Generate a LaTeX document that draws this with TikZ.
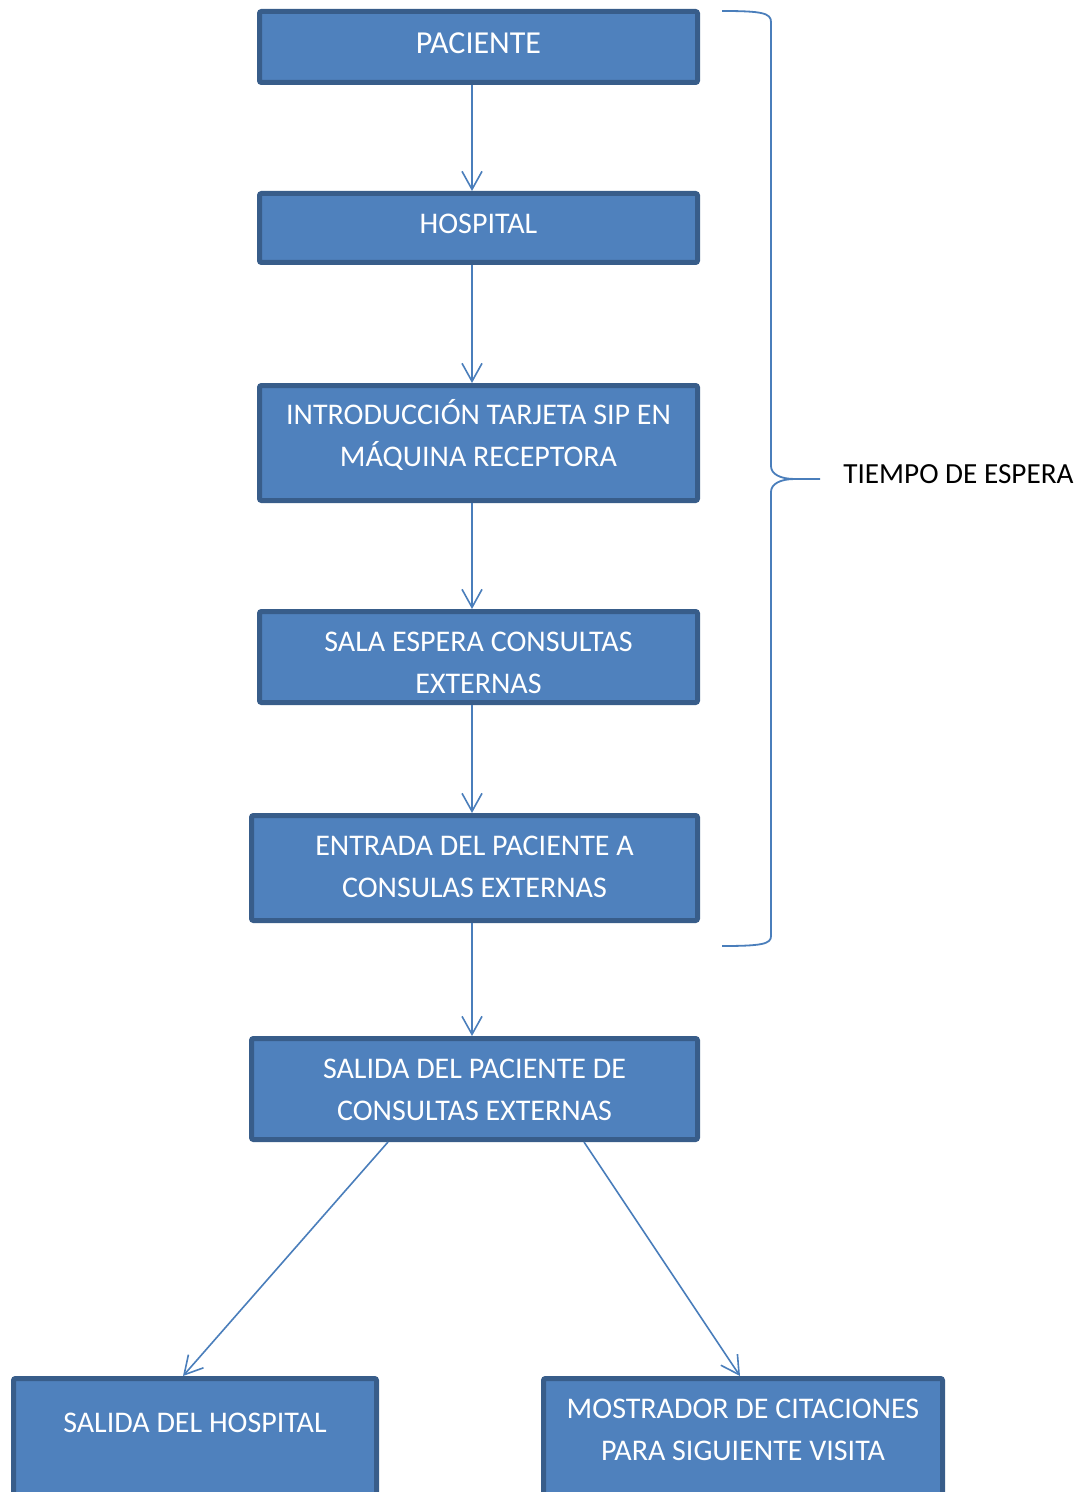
\documentclass[tikz,border=0pt]{standalone}
\usepackage{fontspec}
\setmainfont{Carlito}
\usetikzlibrary{arrows.meta,calc}
\definecolor{relleno}{HTML}{4F81BD}
\definecolor{borde}{HTML}{385D8A}
\definecolor{linea}{HTML}{4A7EBB}
\tikzset{
  paso/.style={draw=borde, fill=relleno, line width=2.5pt, rounded corners=1pt,
    text=white, align=center, inner sep=0pt, anchor=north,
    font=\fontsize{15}{21}\selectfont},
  flecha/.style={draw=linea, line width=0.8pt, -{Straight Barb[length=9pt,width=10pt]}}
}
\begin{document}
\begin{tikzpicture}[x=0.5pt, y=-0.5pt]
    \useasboundingbox (0,0) rectangle (1081,1492);

    % Boxes
    \node[paso, minimum width=219pt, text height=21.15pt, text depth=14.35pt,
        font=\fontsize{16}{21}\selectfont] (pac) at (478.5,9) {PACIENTE};
    \node[paso, minimum width=219pt, text height=19.9pt, text depth=14.6pt] (hosp) at (478.5,191) {HOSPITAL};
    \node[paso, minimum width=219pt, text height=40.4pt, text depth=17.1pt] (intro) at (478.5,383)
        {INTRODUCCIÓN TARJETA SIP EN\\MÁQUINA RECEPTORA};
    \node[paso, minimum width=219pt, text height=40.9pt, text depth=4.6pt] (sala) at (478.5,609)
        {SALA ESPERA CONSULTAS\\EXTERNAS};
    \node[paso, minimum width=223pt, text height=40.9pt, text depth=11.6pt] (entrada) at (474.5,813)
        {ENTRADA DEL PACIENTE A\\CONSULAS EXTERNAS};
    \node[paso, minimum width=223pt, text height=40.9pt, text depth=9.6pt] (salida) at (474.5,1036)
        {SALIDA DEL PACIENTE DE\\CONSULTAS EXTERNAS};
    \node[paso, minimum width=181.5pt, text height=26.9pt, text depth=39pt]
        (salhosp) at (195,1376) {SALIDA DEL HOSPITAL};
    \node[paso, minimum width=199.5pt, text height=40.9pt, text depth=25pt]
        (mostrador) at (743,1376) {MOSTRADOR DE CITACIONES\\PARA SIGUIENTE VISITA};

    % Arrows
    \coordinate (eje) at (472,0);
    \draw[flecha] (pac.south -| eje) -- (hosp.north -| eje);
    \draw[flecha] (hosp.south -| eje) -- (intro.north -| eje);
    \draw[flecha] (intro.south -| eje) -- (sala.north -| eje);
    \draw[flecha] (sala.south -| eje) -- (entrada.north -| eje);
    \draw[flecha] (entrada.south -| eje) -- (salida.north -| eje);
    \draw[flecha] ($(salida.south)+(-86.5,0)$) -- ($(salhosp.north)+(-12,0)$);
    \draw[flecha] ($(salida.south)+(109.5,0)$) -- ($(mostrador.north)+(-3,0)$);

    % Brace
    \coordinate (punta) at (820,479);
    \draw[linea, line width=0.9pt] (722,11) .. controls (762,11) and (771,13) .. (771,22)
        -- (771,466) .. controls (771,474) and (780,479) .. (795,479) -- (punta);
    \draw[linea, line width=0.9pt] (795,479) .. controls (780,479) and (771,484) .. (771,492)
        -- (771,936) .. controls (771,944) and (762,946) .. (722,946);
    \node[anchor=base west, inner sep=0pt, font=\fontsize{14.6}{17}\selectfont] (espera)
        at (843,483.5) {TIEMPO DE ESPERA};
\end{tikzpicture}
\end{document}
